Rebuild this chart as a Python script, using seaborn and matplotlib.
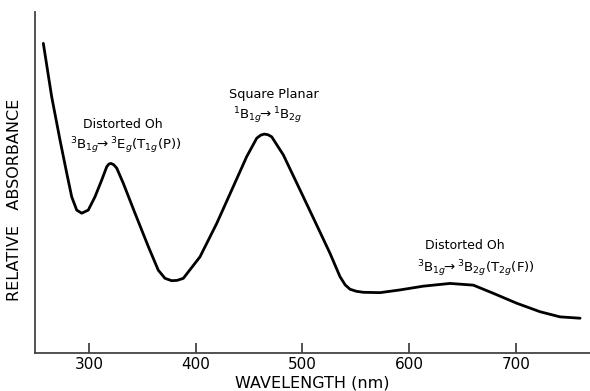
import matplotlib
matplotlib.use("Agg")
import matplotlib.pyplot as plt
import seaborn as sns
import pandas as pd

# Spectrum (wavelength in nm, relative absorbance 0..1)
wavelength = [257.2, 265.0, 272.8, 279.1, 283.8, 288.5, 293.2, 299.3, 305.6, 311.9,
              316.6, 318.6, 320.6, 323.2, 326.0, 332.1, 343.1, 355.6, 364.9, 371.2,
              377.5, 382.6, 388.4, 404.0, 419.7, 435.2, 447.8, 457.2, 461.0, 464.3,
              467.8, 471.2, 482.1, 497.8, 513.4, 525.9, 535.2, 540.0, 544.6, 550.5,
              557.1, 572.7, 591.5, 613.3, 638.3, 660.2, 678.9, 700.8, 722.7, 741.4,
              760.2]
absorbance = [0.908, 0.752, 0.625, 0.528, 0.458, 0.419, 0.410, 0.419, 0.458, 0.507,
              0.546, 0.554, 0.556, 0.552, 0.542, 0.498, 0.410, 0.312, 0.243, 0.219,
              0.212, 0.213, 0.219, 0.282, 0.380, 0.488, 0.576, 0.630, 0.639, 0.642,
              0.640, 0.634, 0.581, 0.478, 0.375, 0.292, 0.224, 0.200, 0.187, 0.181,
              0.178, 0.177, 0.185, 0.196, 0.204, 0.199, 0.175, 0.146, 0.121, 0.106,
              0.102]
tick_values = [300, 400, 500, 600, 700]

df = pd.DataFrame({"wavelength": wavelength, "absorbance": absorbance})

sns.set_theme(style="white")
plt.rcParams['font.family'] = ['DejaVu Sans']
plt.rcParams['mathtext.fontset'] = 'dejavusans'
plt.rcParams['text.color'] = 'black'

fig = plt.figure(figsize=(5.9, 3.91), dpi=100)
ax = fig.add_axes([35/590, 38/391, 1 - 35/590, (353-12)/391])

sns.lineplot(data=df, x="wavelength", y="absorbance", ax=ax, color="black",
             linewidth=2.0, sort=True, solid_joinstyle="round", solid_capstyle="round")

ax.set_xlim(249.4, 769.5)
ax.set_ylim(0, 1)
ax.set_xticks(tick_values)
ax.set_xticklabels([str(t) for t in tick_values], fontsize=11, color="black")
ax.set_yticks([])
ax.tick_params(axis="x", direction="in", length=7, width=1.2, color="#333333",
               pad=3, bottom=True)
for s in ["top", "right"]:
    ax.spines[s].set_visible(False)
for s in ["left", "bottom"]:
    ax.spines[s].set_color("#444444")
    ax.spines[s].set_linewidth(1.3)

ax.set_xlabel("WAVELENGTH (nm)", fontsize=11.5, color="black")
ax.xaxis.set_label_coords(0.5, (353 - 383) / 341)
ax.xaxis.label.set_va("center")
ax.set_ylabel("")
fig.text(15/590, 1 - 200/391, "RELATIVE   ABSORBANCE", rotation=90,
         ha="center", va="center", fontsize=11.5, color="black")

ax.text(331.4, 0.669, "Distorted Oh", ha="center", va="center", fontsize=9)
ax.text(334.7, 0.607, r"$^{3}\mathrm{B}_{1g}\!\!\rightarrow{}^{3}\mathrm{E}_{g}(\mathrm{T}_{1g}(\mathrm{P}))$",
        ha="center", va="center", fontsize=9.6)
ax.text(473.4, 0.757, "Square Planar", ha="center", va="center", fontsize=9.2)
ax.text(467.3, 0.695, r"$^{1}\mathrm{B}_{1g}\!\!\rightarrow{}^{1}\mathrm{B}_{2g}$",
        ha="center", va="center", fontsize=9.6)
ax.text(652.4, 0.314, "Distorted Oh", ha="center", va="center", fontsize=9)
ax.text(662.2, 0.246, r"$^{3}\mathrm{B}_{1g}\!\!\rightarrow{}^{3}\mathrm{B}_{2g}(\mathrm{T}_{2g}(\mathrm{F}))$",
        ha="center", va="center", fontsize=9.6)

fig.savefig("out.png", dpi=100)
